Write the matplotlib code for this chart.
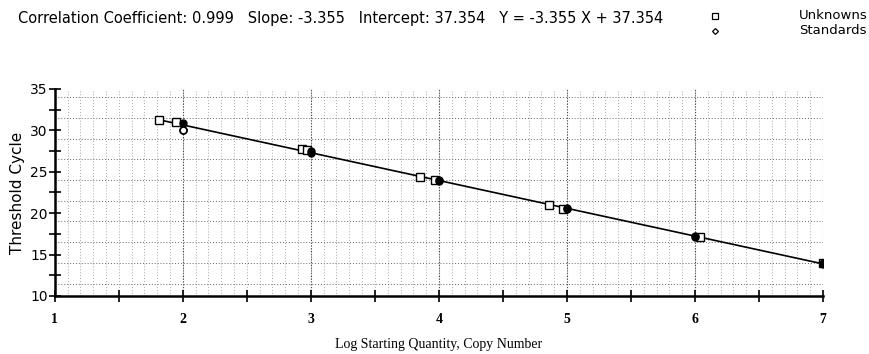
import matplotlib
matplotlib.use("Agg")
import matplotlib.pyplot as plt
import numpy as np

unk_x = [1.815, 1.945, 2.927, 2.966, 3.85, 3.97, 4.86, 4.97, 6.04, 7.0]
unk_y = [31.3, 30.95, 27.7, 27.6, 24.4, 24.05, 21.0, 20.55, 17.15, 13.95]
std_x = [2.0, 2.0, 3.0, 3.0, 4.0, 4.0, 5.0, 5.0, 6.0, 6.0, 7.0, 7.0]
std_y = [30.9, 30.0, 27.45, 27.2, 24.0, 23.9, 20.6, 20.5, 17.2, 17.1, 13.95, 13.85]
slope = -3.355
intercept = 37.354
x_ticks = [1, 2, 3, 4, 5, 6, 7]
y_ticks = [10, 15, 20, 25, 30, 35]

narrow = "DejaVu Sans"

fig = plt.figure(figsize=(8.7, 3.54), dpi=100)
ax = fig.add_axes([0.063, 0.164, 0.883, 0.585])

# dotted grid
for gx in np.arange(1.1, 7.0, 0.1):
    ax.axvline(gx, color="#8a8a8a", lw=0.6, ls=(0, (1, 2.5)), zorder=0)
for gy in np.arange(11.5, 35, 2.5):
    ax.axhline(gy, color="#666666", lw=0.7, ls=(0, (1, 2)), zorder=0)
for gx in x_ticks[1:]:
    ax.axvline(gx, color="#444444", lw=0.8, ls=(0, (1, 1.5)), zorder=0)

lx = np.array([min(unk_x), max(unk_x)])
ax.plot(lx, slope * lx + intercept, color="black", lw=1.2, zorder=2)
ax.plot(unk_x, unk_y, ls="none", marker="s", ms=6, mfc="white", mec="black", mew=1.0, zorder=3)
ax.plot(std_x, std_y, ls="none", marker="o", ms=5, mfc="black", mec="black", mew=1.0, zorder=4)
ax.plot([2.0], [30.0], ls="none", marker="o", ms=5, mfc="white", mec="black", mew=1.2, zorder=5)

ax.set_xlim(1, 7)
ax.set_ylim(10, 35)
ax.set_xticks(x_ticks)
ax.set_xticks(np.arange(1.5, 7, 1.0), minor=True)
ax.set_yticks(y_ticks)
ax.set_yticks(np.arange(12.5, 35, 5), minor=True)
ax.tick_params(axis="both", which="both", direction="inout", length=8, width=1.2, color="black")
ax.tick_params(axis="x", which="major", pad=8, labelsize=10)
ax.tick_params(axis="y", which="major", pad=1, labelsize=10)
for lab in ax.get_xticklabels():
    lab.set_fontfamily("Liberation Serif")
    lab.set_fontweight("bold")
for lab in ax.get_yticklabels():
    lab.set_fontfamily(narrow)
for s in ["top", "right"]:
    ax.spines[s].set_visible(False)
ax.spines["left"].set_linewidth(1.8)
ax.spines["bottom"].set_linewidth(1.8)

ax.set_xlabel("Log Starting Quantity, Copy Number", fontsize=10, family="Liberation Serif", labelpad=9)
ax.set_ylabel("Threshold Cycle", fontsize=11, family=narrow, labelpad=4)

fig.text(0.021, 0.948, "Correlation Coefficient: 0.999   Slope: -3.355   Intercept: 37.354   Y = -3.355 X + 37.354",
         fontsize=10.5, family=narrow, va="center", ha="left")
fig.lines.append(matplotlib.lines.Line2D([0.822], [0.955], transform=fig.transFigure, marker="s", ms=4,
                                         mfc="white", mec="black", mew=0.9, ls="none"))
fig.lines.append(matplotlib.lines.Line2D([0.822], [0.913], transform=fig.transFigure, marker="D", ms=3,
                                         mfc="white", mec="black", mew=0.9, ls="none"))
fig.text(0.918, 0.957, "Unknowns", fontsize=9.5, family=narrow, va="center", ha="left")
fig.text(0.918, 0.913, "Standards", fontsize=9.5, family=narrow, va="center", ha="left")

fig.savefig("out.png", dpi=100)
